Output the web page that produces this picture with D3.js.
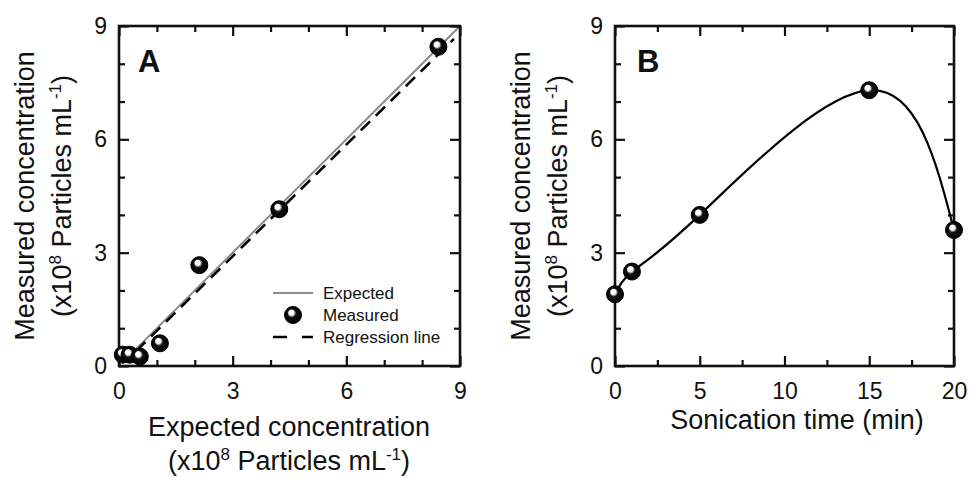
<!DOCTYPE html>
<html>
<head>
<meta charset="utf-8">
<script src="https://cdn.jsdelivr.net/npm/d3@7"></script>
<style>
  body { margin: 0; background: #fff; }
  text { font-family: "Liberation Sans", Arial, sans-serif; fill: #111; }
</style>
</head>
<body>
<script>
// panel A data
let expectedA = [0.1, 0.28, 0.55, 1.08, 2.12, 4.23, 8.43];
let measuredA = [0.3, 0.3, 0.25, 0.6, 2.67, 4.15, 8.45];
let expectedLine = [0.4, 9];     // y = x
let regrLine = [0.45, 8.84];     // x range of the regression line
let regrCoef = [-0.05, 0.985];   // intercept, slope
let legendItems = ['Expected', 'Measured', 'Regression line'];

// panel B data
let sonicTime = [0, 1, 5, 15, 20];
let sonicConc = [1.9, 2.5, 4.0, 7.3, 3.6];

let ticksA = [0, 3, 6, 9];
let minorA = [1, 2, 4, 5, 7, 8];
let ticksBx = [0, 5, 10, 15, 20];
let minorBx = [2.5, 7.5, 12.5, 17.5];

const W = 969, H = 477;
const TOP = 26, BOT = 366;

let svg = d3.select('body').append('svg')
    .attr('width', W)
    .attr('height', H);

svg.append('rect').attr('width', W).attr('height', H).attr('fill', '#fff');

let grad = svg.append('defs').append('radialGradient')
    .attr('id', 'ball')
    .attr('cx', 0.5).attr('cy', 0.5).attr('r', 0.5)
    .attr('fx', 0.36).attr('fy', 0.3);
grad.append('stop').attr('offset', '0%').attr('stop-color', '#fff');
grad.append('stop').attr('offset', '30%').attr('stop-color', '#fafafa');
grad.append('stop').attr('offset', '50%').attr('stop-color', '#111');
grad.append('stop').attr('offset', '100%').attr('stop-color', '#000');

function AddBall(sel, x, y, r = 8.5) {
    return sel.append('circle')
        .attr('cx', x).attr('cy', y).attr('r', r)
        .attr('fill', 'url(#ball)')
        .attr('stroke', '#000')
        .attr('stroke-width', 1);
}

function AddAxes(sel, x, y, xMajor, xMinor, yMajor, yMinor) {
    let x0 = x.range()[0], x1 = x.range()[1];
    let fmt = d3.format('d');
    let axes = [
        [d3.axisBottom(x).tickValues(xMajor).tickSize(-10).tickPadding(17).tickFormat(fmt), 'translate(0,' + BOT + ')'],
        [d3.axisBottom(x).tickValues(xMinor).tickSize(-6).tickFormat(''), 'translate(0,' + BOT + ')'],
        [d3.axisTop(x).tickValues(xMajor).tickSize(-10).tickFormat(''), 'translate(0,' + TOP + ')'],
        [d3.axisTop(x).tickValues(xMinor).tickSize(-6).tickFormat(''), 'translate(0,' + TOP + ')'],
        [d3.axisLeft(y).tickValues(yMajor).tickSize(-10).tickPadding(12).tickFormat(fmt), 'translate(' + x0 + ',0)'],
        [d3.axisLeft(y).tickValues(yMinor).tickSize(-6).tickFormat(''), 'translate(' + x0 + ',0)'],
        [d3.axisRight(y).tickValues(yMajor).tickSize(-10).tickFormat(''), 'translate(' + x1 + ',0)'],
        [d3.axisRight(y).tickValues(yMinor).tickSize(-6).tickFormat(''), 'translate(' + x1 + ',0)']
    ];
    axes.forEach(function(a) {
        let g = sel.append('g').attr('transform', a[1]).call(a[0]);
        g.select('.domain').remove();
        g.selectAll('line').attr('stroke', '#111').attr('stroke-width', 2.2);
        g.selectAll('text')
            .attr('fill', '#111')
            .style('font-size', '23px')
            .style('font-family', '"Liberation Sans", Arial, sans-serif');
    });
    sel.append('rect')
        .attr('x', x0).attr('y', TOP)
        .attr('width', x1 - x0).attr('height', BOT - TOP)
        .attr('fill', 'none')
        .attr('stroke', '#111')
        .attr('stroke-width', 2.6);
}

// two line "(x10^8 Particles mL^-1)" label
function AddUnits(t) {
    t.append('tspan').text('(x10');
    t.append('tspan').attr('dy', -10).style('font-size', '17px').text('8');
    t.append('tspan').attr('dy', 10).text(' Particles mL');
    t.append('tspan').attr('dy', -10).style('font-size', '17px').text('-1');
    t.append('tspan').attr('dy', 10).text(')');
}

function AddYTitle(sel, bx1, bx2, cy) {
    sel.append('text')
        .attr('transform', 'translate(' + bx1 + ',' + cy + ') rotate(-90)')
        .attr('text-anchor', 'middle')
        .style('font-size', '27px')
        .text('Measured concentration');
    let t = sel.append('text')
        .attr('transform', 'translate(' + bx2 + ',' + cy + ') rotate(-90)')
        .attr('text-anchor', 'middle')
        .style('font-size', '27px');
    AddUnits(t);
}

// ---------- panel A ----------
let xA = d3.scaleLinear().domain([0, 9]).range([119, 460]);
let yA = d3.scaleLinear().domain([0, 9]).range([BOT, TOP]);
let gA = svg.append('g');

gA.append('line')
    .attr('x1', xA(expectedLine[0])).attr('y1', yA(expectedLine[0]))
    .attr('x2', xA(expectedLine[1])).attr('y2', yA(expectedLine[1]))
    .attr('stroke', '#8a8a8a').attr('stroke-width', 2);

gA.append('line')
    .attr('x1', xA(regrLine[0])).attr('y1', yA(regrCoef[0] + regrCoef[1] * regrLine[0]))
    .attr('x2', xA(regrLine[1])).attr('y2', yA(regrCoef[0] + regrCoef[1] * regrLine[1]))
    .attr('stroke', '#000').attr('stroke-width', 2.6)
    .attr('stroke-dasharray', '13,8');

AddAxes(gA, xA, yA, ticksA, minorA, ticksA, minorA);

expectedA.forEach(function(v, i) {
    AddBall(gA, xA(v), yA(measuredA[i]));
});

gA.append('text').attr('x', 138).attr('y', 72)
    .style('font-size', '31px').style('font-weight', 'bold').text('A');

// legend
let lg = gA.append('g');
lg.append('line').attr('x1', 273).attr('x2', 313).attr('y1', 293).attr('y2', 293)
    .attr('stroke', '#8a8a8a').attr('stroke-width', 2);
AddBall(lg, 293, 315);
lg.append('line').attr('x1', 273).attr('x2', 313).attr('y1', 337).attr('y2', 337)
    .attr('stroke', '#000').attr('stroke-width', 2.6).attr('stroke-dasharray', '14,15');
legendItems.forEach(function(s, i) {
    lg.append('text').attr('x', 323).attr('y', 299 + i * 22)
        .style('font-size', '17px').text(s);
});

AddYTitle(gA, 34, 71, 196);
gA.append('text').attr('x', 289).attr('y', 436)
    .attr('text-anchor', 'middle').style('font-size', '27px')
    .text('Expected concentration');
AddUnits(gA.append('text').attr('x', 289).attr('y', 470)
    .attr('text-anchor', 'middle').style('font-size', '27px'));

// ---------- panel B ----------
let xB = d3.scaleLinear().domain([0, 20]).range([615, 954]);
let yB = d3.scaleLinear().domain([0, 9]).range([BOT, TOP]);
let gB = svg.append('g');

let curve = d3.line()
    .x(function(d, i) { return xB(sonicTime[i]); })
    .y(function(d) { return yB(d); })
    .curve(d3.curveNatural);
gB.append('path')
    .attr('d', curve(sonicConc))
    .attr('fill', 'none')
    .attr('stroke', '#000')
    .attr('stroke-width', 2.2);

AddAxes(gB, xB, yB, ticksBx, minorBx, ticksA, minorA);

sonicTime.forEach(function(v, i) {
    AddBall(gB, xB(v), yB(sonicConc[i]));
});

gB.append('text').attr('x', 637).attr('y', 72)
    .style('font-size', '31px').style('font-weight', 'bold').text('B');

AddYTitle(gB, 530, 567, 196);
gB.append('text').attr('x', 797).attr('y', 429)
    .attr('text-anchor', 'middle').style('font-size', '27px')
    .text('Sonication time (min)');
</script>
</body>
</html>
